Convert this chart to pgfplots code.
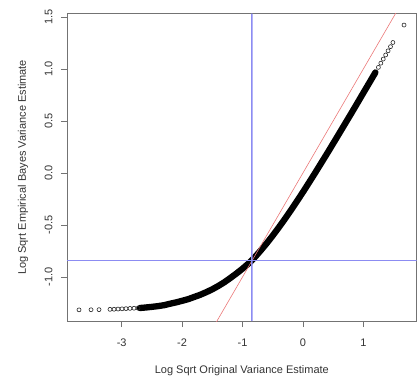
\documentclass[border=0pt]{standalone}
\usepackage{pgfplots}
\pgfplotsset{compat=1.18}
\usepackage{fontspec}
\setmainfont{Liberation Sans}
\definecolor{ablue}{RGB}{135,135,240}
\definecolor{ared}{RGB}{235,120,120}
\begin{document}
\begin{tikzpicture}
\path[use as bounding box] (-67pt,-58pt) rectangle (352pt,321pt);
\begin{axis}[
  at={(0pt,0pt)}, anchor=south west,
  scale only axis, width=349.7pt, height=307.3pt,
  xmin=-3.906, xmax=1.884, ymin=-1.423, ymax=1.532,
  axis line style={black!55, line width=0.8pt},
  tick align=outside, major tick length=6pt,
  tick style={black!55, line width=0.8pt},
  xtick pos=left, ytick pos=left,
  xtick={-3,-2,-1,0,1}, xticklabels={-3,-2,-1,0,1},
  ytick={-1,-0.5,0,0.5,1,1.5}, yticklabels={-1.0,-0.5,0.0,0.5,1.0,1.5},
  ticklabel style={font=\fontsize{11}{13}\selectfont, text=black!80},
  xticklabel style={anchor=north}, xticklabel shift=8pt,
  yticklabel style={rotate=90, anchor=south}, yticklabel shift=5pt,
  label style={font=\fontsize{11}{13}\selectfont, text=black!80},
  xlabel={Log Sqrt Original Variance Estimate},
  ylabel={Log Sqrt Empirical Bayes Variance Estimate},
  xlabel style={at={(axis description cs:0.5,-0.1627)}, anchor=center},
  ylabel style={at={(axis description cs:-0.1258,0.5)}, anchor=center},
  clip=true,
]
% dense band of points
\addplot[black, line width=6.3pt, line cap=round, line join=round, no marks] coordinates {
(-2.7,-1.298) (-2.6,-1.293) (-2.5,-1.287) (-2.4,-1.280) (-2.3,-1.271)
(-2.2,-1.257) (-2.1,-1.244) (-2.0,-1.229) (-1.9,-1.213) (-1.8,-1.192)
(-1.7,-1.171) (-1.6,-1.146) (-1.5,-1.118) (-1.4,-1.086) (-1.3,-1.050)
(-1.2,-1.009) (-1.1,-0.966) (-1.0,-0.920) (-0.9,-0.870) (-0.8,-0.812)
(-0.7,-0.746) (-0.6,-0.676) (-0.5,-0.602) (-0.4,-0.524) (-0.3,-0.443)
(-0.2,-0.359) (-0.1,-0.272) (0.0,-0.184) (0.1,-0.093) (0.2,-0.001)
(0.3,0.093) (0.4,0.187) (0.5,0.283) (0.6,0.379) (0.7,0.476)
(0.8,0.573) (0.9,0.671) (1.0,0.770) (1.1,0.868) (1.2,0.967)
};
% sparse points at both ends
\addplot[only marks, mark=o, mark size=2pt, black!85, mark options={line width=0.6pt}] coordinates {
(-3.707,-1.316) (-3.508,-1.315) (-3.376,-1.314) (-3.194,-1.311) (-3.127,-1.310)
(-3.061,-1.308) (-2.995,-1.306) (-2.929,-1.304) (-2.863,-1.302) (-2.796,-1.300)
(-2.730,-1.299)
(1.25,1.016) (1.29,1.056) (1.33,1.096) (1.37,1.135) (1.41,1.175)
(1.45,1.215) (1.49,1.255) (1.674,1.423)
};
% reference lines
\addplot[ared, line width=0.6pt, no marks] coordinates {(-1.5,-1.5) (1.6,1.6)};
\addplot[color={rgb,255:red,140;green,140;blue,242}, line width=1.3pt, no marks] coordinates {(-0.8450,-1.423) (-0.8451,1.532)};
\addplot[color={rgb,255:red,140;green,140;blue,242}, line width=1.2pt, no marks] coordinates {(-3.906,-0.84) (1.884,-0.84)};
\end{axis}
\end{tikzpicture}
\end{document}
